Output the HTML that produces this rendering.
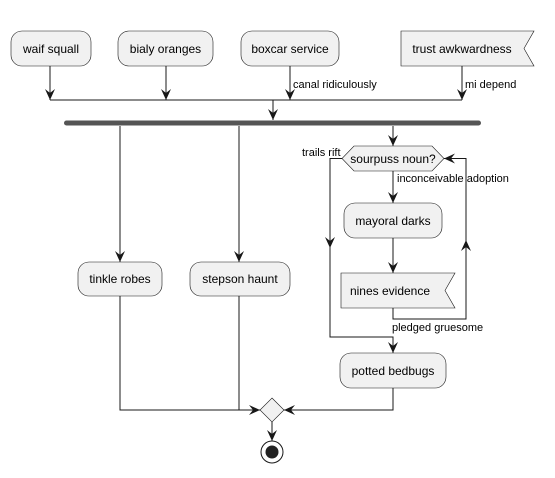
<!DOCTYPE html>
<html><head><meta charset="utf-8"><style>
html,body{margin:0;padding:0;background:#fff;}
svg text{font-family:"Liberation Sans",sans-serif;}
</style></head><body>
<svg width="555" height="473" viewBox="0 0 555 473" xmlns="http://www.w3.org/2000/svg">
<defs>
<marker id="a" viewBox="0 0 12 12" refX="11" refY="6" markerWidth="12" markerHeight="12" markerUnits="userSpaceOnUse" orient="auto">
<path d="M0,1 L11,6 L0,11 L4,6 Z" fill="#181818"/></marker>
</defs>
<g fill="#F1F1F1" stroke="#181818" stroke-width="0.6">
<rect x="11" y="31" width="80" height="35" rx="11"/>
<rect x="118" y="31" width="95" height="35" rx="11"/>
<rect x="241" y="31" width="98" height="35" rx="11"/>
<path d="M401,31 L534,31 L524,48.5 L534,66 L401,66 Z"/>
<rect x="78" y="262" width="84" height="34" rx="11"/>
<rect x="190" y="262" width="100" height="34" rx="11"/>
<path d="M354,146 L432,146 L444,158.5 L432,171 L354,171 L342,158.5 Z"/>
<rect x="344" y="203" width="98" height="35" rx="11"/>
<path d="M341,273 L455,273 L445,290.5 L455,308 L341,308 Z"/>
<rect x="340" y="353" width="106" height="35" rx="11"/>
<path d="M272,398 L284,410 L272,422 L260,410 Z"/>
</g>
<g font-size="12" fill="#000" text-anchor="middle">
<text x="51" y="53">waif squall</text>
<text x="165.5" y="53">bialy oranges</text>
<text x="290" y="53">boxcar service</text>
<text x="462" y="53">trust awkwardness</text>
<text x="120" y="283">tinkle robes</text>
<text x="240" y="283">stepson haunt</text>
<text x="393" y="163">sourpuss noun?</text>
<text x="393" y="225">mayoral darks</text>
<text x="390" y="295">nines evidence</text>
<text x="393" y="375">potted bedbugs</text>
</g>
<g font-size="11" fill="#000">
<text x="293" y="88">canal ridiculously</text>
<text x="465" y="88">mi depend</text>
<text x="302" y="156">trails rift</text>
<text x="397" y="182">inconceivable adoption</text>
<text x="392" y="331">pledged gruesome</text>
</g>
<g stroke="#181818" stroke-width="1" fill="none">
<line x1="50" y1="66" x2="50" y2="100" marker-end="url(#a)"/>
<line x1="166" y1="66" x2="166" y2="100" marker-end="url(#a)"/>
<line x1="290" y1="66" x2="290" y2="100" marker-end="url(#a)"/>
<line x1="462" y1="66" x2="462" y2="100" marker-end="url(#a)"/>
<line x1="50" y1="100" x2="462" y2="100"/>
<line x1="273" y1="100" x2="273" y2="120" marker-end="url(#a)"/>
<line x1="120" y1="126" x2="120" y2="262" marker-end="url(#a)"/>
<line x1="239" y1="126" x2="239" y2="262" marker-end="url(#a)"/>
<line x1="393" y1="126" x2="393" y2="146" marker-end="url(#a)"/>
<line x1="393" y1="171" x2="393" y2="203" marker-end="url(#a)"/>
<line x1="393" y1="238" x2="393" y2="273" marker-end="url(#a)"/>
<path d="M342,158.5 H330 V337 H393 V353" marker-end="url(#a)"/>
<line x1="330" y1="200" x2="330" y2="248" marker-end="url(#a)"/>
<path d="M393,308 V319 H466 V158.5 H444" marker-end="url(#a)"/>
<line x1="466" y1="280" x2="466" y2="240" marker-end="url(#a)"/>
<path d="M120,296 V410 H260" marker-end="url(#a)"/>
<line x1="239" y1="296" x2="239" y2="410"/>
<path d="M393,388 V410 H284" marker-end="url(#a)"/>
<line x1="272" y1="422" x2="272" y2="441" marker-end="url(#a)"/>
</g>
<rect x="64" y="120.5" width="417" height="5" rx="2.5" fill="#555"/>
<circle cx="272" cy="452" r="11" fill="none" stroke="#181818" stroke-width="1"/>
<circle cx="272" cy="452" r="6.5" fill="#222"/>
</svg>
</body></html>
